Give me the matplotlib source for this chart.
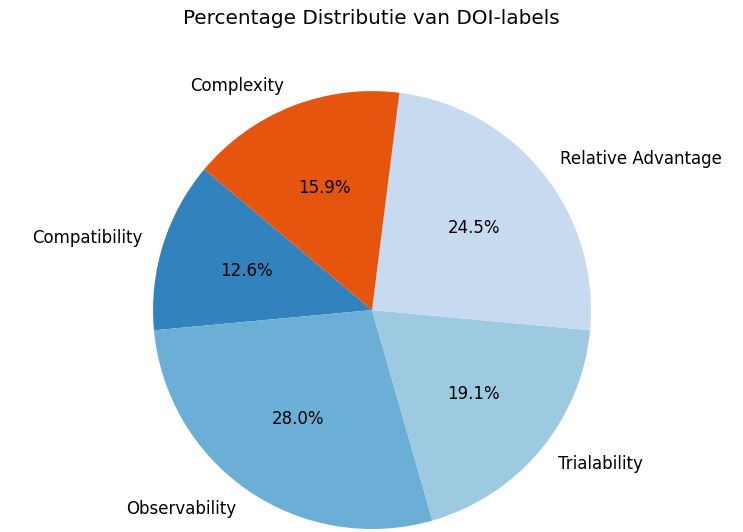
import matplotlib.pyplot as plt

labels = ['Compatibility', 'Observability', 'Trialability', 'Relative Advantage', 'Complexity']
percentages = [12.6, 28.0, 19.1, 24.5, 15.9]

colors = plt.get_cmap('tab20c').colors[:5]

fig = plt.figure(figsize=(7.43, 5.32), dpi=100)
ax = fig.add_axes([0.1322, -0.0973, 0.737, 1.029])

ax.pie(percentages, labels=labels, autopct='%1.1f%%', startangle=140,
       colors=colors, textprops={'fontsize': 12})
ax.set_xlim(-1.25, 1.25)
ax.set_ylim(-1.25, 1.25)
ax.set_aspect('equal')

fig.text(0.5, 1 - 19 / 532, 'Percentage Distributie van DOI-labels',
         ha='center', va='center', fontsize=14.4)

fig.savefig('out.png', dpi=100)
